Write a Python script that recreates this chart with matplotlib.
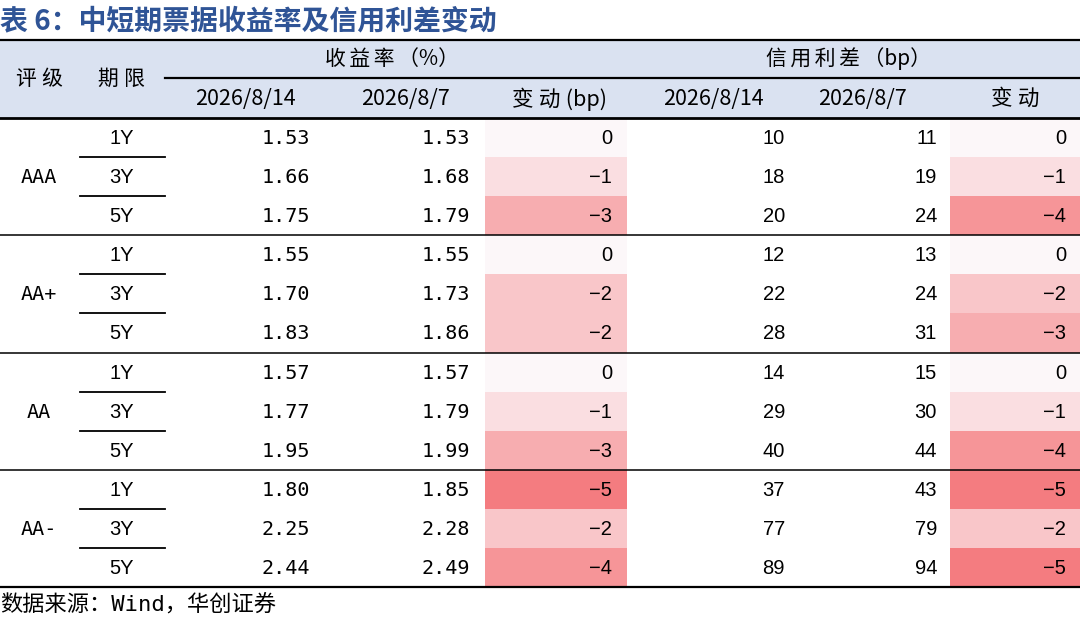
import matplotlib
matplotlib.use("Agg")
import matplotlib.pyplot as plt
from matplotlib.colors import LinearSegmentedColormap, Normalize

plt.rcParams['font.family'] = ['Noto Sans CJK SC', 'DejaVu Sans']

# ---------------- data ----------------
title = "表 6：中短期票据收益率及信用利差变动"
source = "数据来源：Wind，华创证券"
ratings = ["AAA", "AA+", "AA", "AA-"]
terms = ["1Y", "3Y", "5Y"]
corner_headers = ["评级", "期限"]
group_headers = ["收益率（%）", "信用利差（bp）"]
sub_headers = ["2026/8/14", "2026/8/7", "变动(bp)", "2026/8/14", "2026/8/7", "变动"]
yield_0814 = [1.53, 1.66, 1.75, 1.55, 1.70, 1.83, 1.57, 1.77, 1.95, 1.80, 2.25, 2.44]
yield_0807 = [1.53, 1.68, 1.79, 1.55, 1.73, 1.86, 1.57, 1.79, 1.99, 1.85, 2.28, 2.49]
yield_chg = [0, -1, -3, 0, -2, -2, 0, -1, -3, -5, -2, -4]
spread_0814 = [10, 18, 20, 12, 22, 28, 14, 29, 40, 37, 77, 89]
spread_0807 = [11, 19, 24, 13, 24, 31, 15, 30, 44, 43, 79, 94]
spread_chg = [0, -1, -4, 0, -2, -3, 0, -1, -4, -5, -2, -5]


def spaced(s, sp="\u2006"):
    """Add a small gap after each CJK character (letter spacing of the original)."""
    out = ""
    for ch in s:
        out += ch
        if ord(ch) > 0x2E80 and ch not in "（）：，":
            out += sp
    return out.rstrip(sp)


# ---------------- layout (pixels) ----------------
W, H = 1080, 622
fig = plt.figure(figsize=(W / 100, H / 100), dpi=100)
ax = fig.add_axes([0, 0, 1, 1])
ax.set_xlim(0, W)
ax.set_ylim(H, 0)
ax.axis("off")

top, mid, hdr_bot, bot = 40, 78, 118, 587
n_rows = len(yield_0814)
rh = (bot - hdr_bot) / n_rows
rating_x, term_x = 39, 122
term_line = (80, 165)
col_right = [310, 470, 612, 785, 937, 1066]
col_center = [245, 405, 560, 713, 862, 1015]
chg_bg = [(485, 627), (950, 1080)]
grp_center = [392, 849]

title_color = "#2F5496"
hdr_bg = "#DAE2F1"
cmap = LinearSegmentedColormap.from_list("chg", ["#FCF7F9", "#F47C80"])
norm = Normalize(vmin=0, vmax=5)

# title
ax.text(0, 21, title, fontsize=20.1, fontweight="bold", color=title_color,
        va="center", ha="left")

# header background
ax.add_patch(plt.Rectangle((0, top), W, hdr_bot - top, color=hdr_bg, lw=0, zorder=0))

# change-column backgrounds
for (x0, x1), vals in zip(chg_bg, [yield_chg, spread_chg]):
    for i, v in enumerate(vals):
        y0 = hdr_bot + i * rh
        ax.add_patch(plt.Rectangle((x0, y0), x1 - x0, rh, color=cmap(norm(-v)),
                                   lw=0, zorder=0))

# lines
ax.plot([0, W], [top, top], color="black", lw=1.6)
ax.plot([165, W], [mid, mid], color="black", lw=1.6)
ax.plot([0, W], [hdr_bot, hdr_bot], color="black", lw=2.0)
ax.plot([0, W], [bot, bot], color="black", lw=1.6)
for g in range(1, len(ratings)):
    y = hdr_bot + g * len(terms) * rh
    ax.plot([0, W], [y, y], color="black", lw=1.1)
for g in range(len(ratings)):
    for k in range(1, len(terms)):
        y = hdr_bot + (g * len(terms) + k) * rh
        ax.plot(term_line, [y, y], color="black", lw=1.3)

# header texts
hfs = 15
ax.text(rating_x, (top + hdr_bot) / 2, spaced(corner_headers[0], "\u2005"), fontsize=hfs,
        ha="center", va="center")
ax.text(term_x, (top + hdr_bot) / 2, spaced(corner_headers[1], "\u2005"), fontsize=hfs,
        ha="center", va="center")
for gx, gtxt in zip(grp_center, group_headers):
    ax.text(gx, (top + mid) / 2, spaced(gtxt), fontsize=hfs, ha="center", va="center")
for cx, stxt in zip(col_center, sub_headers):
    ax.text(cx, (mid + hdr_bot) / 2 + 1, spaced(stxt, "\u2005"), fontsize=15.5,
            ha="center", va="center")

# body
nfs = 14.5
for g, r in enumerate(ratings):
    yc = hdr_bot + (g * len(terms) + 1.5) * rh + 1
    ax.text(rating_x, yc, r, fontsize=nfs, ha="center", va="center",
            family=["DejaVu Sans Mono"])
for i in range(n_rows):
    yc = hdr_bot + (i + 0.5) * rh + 1
    ax.text(term_x, yc, terms[i % len(terms)], fontsize=nfs, ha="center", va="center",
            family=["Liberation Sans"])
    ax.text(col_right[0], yc, f"{yield_0814[i]:.2f}", fontsize=nfs, ha="right",
            va="center", family=["DejaVu Sans Mono"])
    ax.text(col_right[1], yc, f"{yield_0807[i]:.2f}", fontsize=nfs, ha="right",
            va="center", family=["DejaVu Sans Mono"])
    ax.text(col_right[2], yc, f"{yield_chg[i]}".replace("-", "\u2212"), fontsize=nfs,
            ha="right", va="center", family=["Liberation Sans"])
    ax.text(col_right[3], yc, f"{spread_0814[i]}", fontsize=nfs, ha="right",
            va="center", family=["Liberation Sans"])
    ax.text(col_right[4], yc, f"{spread_0807[i]}", fontsize=nfs, ha="right",
            va="center", family=["Liberation Sans"])
    ax.text(col_right[5], yc, f"{spread_chg[i]}".replace("-", "\u2212"), fontsize=nfs,
            ha="right", va="center", family=["Liberation Sans"])

# source
ax.text(0, 605, source, fontsize=16, ha="left", va="center",
        family=["DejaVu Sans Mono", "Noto Sans CJK SC"])

fig.savefig("out.png", dpi=100)
